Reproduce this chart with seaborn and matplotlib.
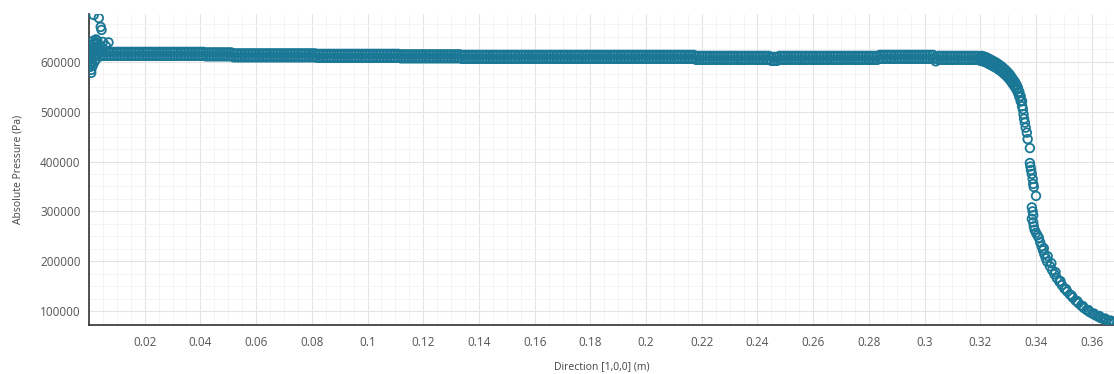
import numpy as np
import pandas as pd
import matplotlib
matplotlib.use("Agg")
import matplotlib.pyplot as plt
import seaborn as sns
from matplotlib.ticker import MultipleLocator, FuncFormatter

# probe positions along the flat part of the line (m)
x_band = [0.004, 0.005, 0.006, 0.007, 0.008, 0.009, 0.010, 0.011, 0.012, 0.013,
          0.014, 0.015, 0.016, 0.017, 0.018, 0.019, 0.020, 0.021, 0.022, 0.023,
          0.024, 0.025, 0.026, 0.027, 0.028, 0.029, 0.030, 0.031, 0.032, 0.033,
          0.034, 0.035, 0.036, 0.037, 0.038, 0.039, 0.040, 0.041, 0.042, 0.043,
          0.044, 0.045, 0.046, 0.047, 0.048, 0.049, 0.050, 0.051, 0.052, 0.053,
          0.054, 0.055, 0.056, 0.057, 0.058, 0.059, 0.060, 0.061, 0.062, 0.063,
          0.064, 0.065, 0.066, 0.067, 0.068, 0.069, 0.070, 0.071, 0.072, 0.073,
          0.074, 0.075, 0.076, 0.077, 0.078, 0.079, 0.080, 0.081, 0.082, 0.083,
          0.084, 0.085, 0.086, 0.087, 0.088, 0.089, 0.090, 0.091, 0.092, 0.093,
          0.094, 0.095, 0.096, 0.097, 0.098, 0.099, 0.100, 0.101, 0.102, 0.103,
          0.104, 0.105, 0.106, 0.107, 0.108, 0.109, 0.110, 0.111, 0.112, 0.113,
          0.114, 0.115, 0.116, 0.117, 0.118, 0.119, 0.120, 0.121, 0.122, 0.123,
          0.124, 0.125, 0.126, 0.127, 0.128, 0.129, 0.130, 0.131, 0.132, 0.133,
          0.134, 0.135, 0.136, 0.137, 0.138, 0.139, 0.140, 0.141, 0.142, 0.143,
          0.144, 0.145, 0.146, 0.147, 0.148, 0.149, 0.150, 0.151, 0.152, 0.153,
          0.154, 0.155, 0.156, 0.157, 0.158, 0.159, 0.160, 0.161, 0.162, 0.163,
          0.164, 0.165, 0.166, 0.167, 0.168, 0.169, 0.170, 0.171, 0.172, 0.173,
          0.174, 0.175, 0.176, 0.177, 0.178, 0.179, 0.180, 0.181, 0.182, 0.183,
          0.184, 0.185, 0.186, 0.187, 0.188, 0.189, 0.190, 0.191, 0.192, 0.193,
          0.194, 0.195, 0.196, 0.197, 0.198, 0.199, 0.200, 0.201, 0.202, 0.203,
          0.204, 0.205, 0.206, 0.207, 0.208, 0.209, 0.210, 0.211, 0.212, 0.213,
          0.214, 0.215, 0.216, 0.217, 0.218, 0.219, 0.220, 0.221, 0.222, 0.223,
          0.224, 0.225, 0.226, 0.227, 0.228, 0.229, 0.230, 0.231, 0.232, 0.233,
          0.234, 0.235, 0.236, 0.237, 0.238, 0.239, 0.240, 0.241, 0.242, 0.243,
          0.244, 0.245, 0.246, 0.247, 0.248, 0.249, 0.250, 0.251, 0.252, 0.253,
          0.254, 0.255, 0.256, 0.257, 0.258, 0.259, 0.260, 0.261, 0.262, 0.263,
          0.264, 0.265, 0.266, 0.267, 0.268, 0.269, 0.270, 0.271, 0.272, 0.273,
          0.274, 0.275, 0.276, 0.277, 0.278, 0.279, 0.280, 0.281, 0.282, 0.283,
          0.284, 0.285, 0.286, 0.287, 0.288, 0.289, 0.290, 0.291, 0.292, 0.293,
          0.294, 0.295, 0.296, 0.297, 0.298, 0.299, 0.300, 0.301, 0.302, 0.303,
          0.304, 0.305, 0.306, 0.307, 0.308, 0.309, 0.310, 0.311, 0.312, 0.313,
          0.314, 0.315, 0.316, 0.317, 0.318, 0.319, 0.320]

# upper edge of the pressure band (kPa)
p_band_top = [619, 620, 620, 620, 620, 620, 620, 620, 620, 620,
              620, 620, 620, 620, 620, 620, 620, 620, 620, 620,
              620, 620, 620, 620, 620, 620, 620, 620, 620, 620,
              620, 620, 620, 620, 620, 620, 620, 620, 619, 619,
              619, 619, 619, 619, 619, 619, 619, 619, 617, 617,
              617, 617, 617, 617, 617, 617, 617, 617, 617, 617,
              617, 617, 617, 617, 617, 617, 617, 617, 617, 617,
              617, 617, 617, 617, 617, 617, 617, 617, 616, 616,
              616, 616, 616, 616, 616, 616, 616, 616, 616, 616,
              616, 616, 616, 616, 616, 616, 616, 616, 616, 616,
              616, 616, 616, 616, 616, 616, 616, 616, 615, 615,
              615, 615, 615, 615, 615, 615, 615, 615, 615, 615,
              615, 615, 615, 615, 615, 615, 615, 615, 615, 615,
              614, 614, 614, 614, 614, 614, 614, 614, 614, 614,
              614, 614, 614, 614, 614, 614, 614, 614, 614, 614,
              614, 614, 614, 614, 614, 614, 614, 614, 614, 614,
              614, 614, 614, 614, 614, 614, 614, 614, 614, 614,
              614, 614, 614, 614, 614, 614, 614, 614, 614, 614,
              614, 614, 614, 614, 614, 614, 614, 614, 614, 614,
              614, 614, 614, 614, 614, 614, 614, 614, 614, 614,
              614, 614, 614, 614, 614, 614, 614, 614, 614, 614,
              614, 614, 614, 614, 612, 612, 612, 612, 612, 612,
              612, 612, 612, 612, 612, 612, 612, 612, 612, 612,
              612, 612, 612, 612, 612, 612, 612, 612, 612, 612,
              612, 610, 610, 610, 612, 612, 612, 612, 612, 612,
              612, 612, 612, 612, 612, 612, 612, 612, 612, 612,
              612, 612, 612, 612, 612, 612, 612, 612, 612, 612,
              612, 612, 612, 612, 612, 612, 612, 612, 612, 612,
              614, 614, 614, 614, 614, 614, 614, 614, 614, 614,
              614, 614, 614, 614, 614, 614, 614, 614, 614, 614,
              609, 612, 612, 612, 612, 612, 612, 612, 612, 612,
              612, 612, 612, 612, 612, 612, 610]

# lower edge of the pressure band (kPa)
p_band_bottom = [611, 612, 612, 612, 612, 612, 612, 612, 612, 612,
                 612, 612, 612, 612, 612, 612, 612, 612, 612, 612,
                 612, 612, 612, 612, 612, 612, 612, 612, 612, 612,
                 612, 612, 612, 612, 612, 612, 612, 612, 611, 611,
                 611, 611, 611, 611, 611, 611, 611, 611, 609, 609,
                 609, 609, 609, 609, 609, 609, 609, 609, 609, 609,
                 609, 609, 609, 609, 609, 609, 609, 609, 609, 609,
                 609, 609, 609, 609, 609, 609, 609, 609, 608, 608,
                 608, 608, 608, 608, 608, 608, 608, 608, 608, 608,
                 608, 608, 608, 608, 608, 608, 608, 608, 608, 608,
                 608, 608, 608, 608, 608, 608, 608, 608, 607, 607,
                 607, 607, 607, 607, 607, 607, 607, 607, 607, 607,
                 607, 607, 607, 607, 607, 607, 607, 607, 607, 607,
                 606, 606, 606, 606, 606, 606, 606, 606, 606, 606,
                 606, 606, 606, 606, 606, 606, 606, 606, 606, 606,
                 606, 606, 606, 606, 606, 606, 606, 606, 606, 606,
                 606, 606, 606, 606, 606, 606, 606, 606, 606, 606,
                 606, 606, 606, 606, 606, 606, 606, 606, 606, 606,
                 606, 606, 606, 606, 606, 606, 606, 606, 606, 606,
                 606, 606, 606, 606, 606, 606, 606, 606, 606, 606,
                 606, 606, 606, 606, 606, 606, 606, 606, 606, 606,
                 606, 606, 606, 606, 604, 604, 604, 604, 604, 604,
                 604, 604, 604, 604, 604, 604, 604, 604, 604, 604,
                 604, 604, 604, 604, 604, 604, 604, 604, 604, 604,
                 604, 602, 602, 602, 604, 604, 604, 604, 604, 604,
                 604, 604, 604, 604, 604, 604, 604, 604, 604, 604,
                 604, 604, 604, 604, 604, 604, 604, 604, 604, 604,
                 604, 604, 604, 604, 604, 604, 604, 604, 604, 604,
                 606, 606, 606, 606, 606, 606, 606, 606, 606, 606,
                 606, 606, 606, 606, 606, 606, 606, 606, 606, 606,
                 601, 604, 604, 604, 604, 604, 604, 604, 604, 604,
                 604, 604, 604, 604, 604, 604, 602]

# scattered points near the inlet (m, kPa)
x_inlet = [0.0005, 0.0005, 0.0008, 0.0010, 0.0010, 0.0005, 0.0012, 0.0015, 0.0020,
           0.0025, 0.0015, 0.0030, 0.0050, 0.0070, 0.0020, 0.0030, 0.0020, 0.0017,
           0.0035, 0.0042, 0.0045, 0.0025, 0.0020, 0.0025, 0.0013, 0.0008,
           0.0030, 0.0035, 0.0010, 0.0018, 0.0028, 0.0038, 0.0060]
p_inlet = [590, 596, 584, 600, 606, 612, 620, 626, 630,
           634, 642, 642, 640, 639, 612, 616, 620, 694,
           688, 670, 664, 645, 600, 606, 592, 578,
           628, 622, 632, 637, 638, 632, 632]

# knee before the drop: positions and band edges (m, kPa)
x_knee = [0.3205, 0.3210, 0.3215, 0.3220, 0.3225, 0.3230, 0.3235, 0.3240, 0.3245, 0.3250,
          0.3255, 0.3260, 0.3265, 0.3270, 0.3275, 0.3280, 0.3285, 0.3290, 0.3295, 0.3300,
          0.3305, 0.3310, 0.3315, 0.3320, 0.3325, 0.3330, 0.3335, 0.3340, 0.3345, 0.3350]
p_knee_top = [612, 611, 610, 609, 608, 606, 605, 603, 602, 600,
              599, 597, 595, 593, 591, 589, 586, 584, 581, 578,
              575, 571, 567, 563, 559, 554, 548, 540, 531, 521]
p_knee_bottom = [602, 601, 600, 599, 598, 596, 595, 593, 592, 590,
                 589, 587, 585, 583, 581, 579, 576, 574, 571, 568,
                 565, 561, 557, 553, 549, 544, 538, 530, 521, 511]

# shock and expansion towards the outlet (m, kPa)
x_drop = [0.3353, 0.3355, 0.3357, 0.3360, 0.3363, 0.3367, 0.3370, 0.3378,
          0.3378, 0.3380, 0.3382, 0.3385, 0.3388, 0.3390, 0.3392, 0.3400,
          0.3385, 0.3388, 0.3390, 0.3385, 0.3390, 0.3392, 0.3395, 0.3400, 0.3405, 0.3410,
          0.3415, 0.3420, 0.3425, 0.3430, 0.3435, 0.3440, 0.3450, 0.3458, 0.3466, 0.3475,
          0.3484, 0.3493, 0.3502, 0.3512, 0.3522, 0.3532, 0.3542, 0.3552, 0.3562, 0.3572,
          0.3582, 0.3592, 0.3602, 0.3612, 0.3622, 0.3632, 0.3642, 0.3652, 0.3662, 0.3672,
          0.3682, 0.3428, 0.3442, 0.3455, 0.3470, 0.3488, 0.3508, 0.3528, 0.3548, 0.3568,
          0.3588, 0.3608, 0.3628, 0.3648, 0.3668]
p_drop = [505, 495, 486, 478, 468, 458, 445, 427,
          397, 390, 383, 375, 365, 355, 349, 331,
          308, 300, 292, 285, 278, 270, 263, 257, 252, 247,
          238, 230, 222, 214, 206, 199, 190, 182, 174, 166,
          159, 152, 145, 139, 133, 127, 121, 116, 111, 106,
          102, 98, 95, 92, 89, 86, 84, 82, 80, 78,
          76, 226, 210, 196, 178, 160, 144, 131, 120, 110,
          102, 95, 90, 85, 81]

xs = x_inlet + x_band + x_band + x_knee + x_knee + x_drop
ps = p_inlet + p_band_top + p_band_bottom + p_knee_top + p_knee_bottom + p_drop
df = pd.DataFrame({"x": xs, "p": np.array(ps) * 1000})

sns.set_theme(style="white")
plt.rcParams["font.family"] = ["Open Sans", "DejaVu Sans"]

fig = plt.figure(figsize=(11.14, 3.74), dpi=100)
ax = fig.add_axes([0.0799, 0.131, 0.9201, 0.8316])

color = "#1a7896"
sns.scatterplot(data=df, x="x", y="p", ax=ax, marker="o", s=38,
                facecolors="none", edgecolor=color, linewidth=1.3, zorder=3)
for c in ax.collections:
    c.set_facecolor("none")
    c.set_edgecolor(color)

ax.set_xlim(0, 0.368)
ax.set_ylim(72000, 696000)

ax.xaxis.set_major_locator(MultipleLocator(0.02))
ax.xaxis.set_minor_locator(MultipleLocator(0.005))
ax.yaxis.set_major_locator(MultipleLocator(100000))
ax.yaxis.set_minor_locator(MultipleLocator(25000))
ax.xaxis.set_major_formatter(FuncFormatter(lambda v, pos: "" if abs(v) < 1e-9 else "%g" % round(v, 3)))
ax.yaxis.set_major_formatter(FuncFormatter(lambda v, pos: "%d" % v))

ax.grid(True, which="major", color="#e4e4e4", linewidth=0.8, zorder=0)
ax.grid(True, which="minor", color="#f2f2f2", linewidth=0.6, zorder=0)
ax.set_axisbelow(True)

for side in ["top", "right"]:
    ax.spines[side].set_visible(False)
for side in ["left", "bottom"]:
    ax.spines[side].set_color("#333333")
    ax.spines[side].set_linewidth(1.2)

ax.tick_params(axis="both", which="major", direction="out", length=4, width=1,
               color="#333333", labelsize=8.5, labelcolor="#555555", pad=2)
ax.tick_params(axis="both", which="minor", direction="out", length=2.5, width=0.8,
               color="#333333")
ax.tick_params(axis="x", which="major", pad=4)

ax.set_xlabel("Direction [1,0,0] (m)", fontsize=7.5, color="#444444", labelpad=9)
ax.set_ylabel("Absolute Pressure (Pa)", fontsize=7.5, color="#444444", labelpad=12)

fig.savefig("out.png", dpi=100)
